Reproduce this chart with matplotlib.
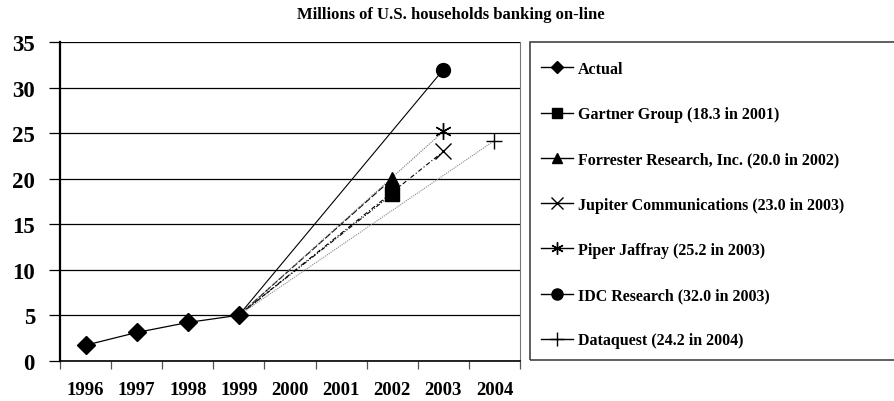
import matplotlib.pyplot as plt
from matplotlib.lines import Line2D
from matplotlib.patches import Rectangle

years = ['1996', '1997', '1998', '1999', '2000', '2001', '2002', '2003', '2004']
actualYears = ['1996', '1997', '1998', '1999']
actual = [1.7, 3.1, 4.2, 5.0]

# forecasts all start from the last actual value (1999)
names = ['Gartner Group (18.3 in 2001)', 'Forrester Research, Inc. (20.0 in 2002)',
         'Jupiter Communications (23.0 in 2003)', 'Piper Jaffray (25.2 in 2003)',
         'IDC Research (32.0 in 2003)', 'Dataquest (24.2 in 2004)']
endYears = ['2002', '2002', '2003', '2003', '2003', '2004']
endValues = [18.3, 20.0, 23.0, 25.2, 32.0, 24.2]

markers = ['s', '^', 'x', (6, 2, 0), 'o', '+']
sizes = [10, 10, 11, 12, 10, 12]
legendSizes = [7, 7, 8, 9, 8, 10]
colors = ['black', 'black', 'black', '#777777', 'black', '#888888']
styles = [(0, (4, 1.5, 1, 1.5, 1, 1.5)), (0, (6, 2)), (0, (4, 2, 1, 2)), (0, (1, 1)), '-', (0, (1, 1))]

plt.rcParams['font.family'] = ['Liberation Serif', 'DejaVu Serif']
plt.rcParams['font.weight'] = 'bold'

fig = plt.figure(figsize=(8.95, 4.02), dpi=100)
ax = fig.add_axes([60 / 895, (402 - 361.7) / 402, 460 / 895, (361.7 - 43.3) / 402])

xpos = {y: i for i, y in enumerate(years)}
ax.plot([xpos[y] for y in actualYears], actual, color='black', lw=0.9,
        marker='D', ms=9, mfc='black', mec='black', zorder=5)

startX = xpos[actualYears[-1]]
startY = actual[-1]
for i in range(len(names)):
    ax.plot([startX, xpos[endYears[i]]], [startY, endValues[i]], color=colors[i],
            lw=0.8, ls=styles[i], zorder=3)
    ax.plot([xpos[endYears[i]]], [endValues[i]], marker=markers[i], ms=sizes[i],
            color='black', mew=1.0, ls='none', zorder=4)

ax.set_xlim(-0.5, len(years) - 0.5)
ax.set_ylim(0, 35)
ax.set_yticks(range(0, 36, 5))
ax.set_yticklabels([str(v) for v in range(0, 36, 5)], fontsize=16.5, fontweight='bold')
ax.set_xticks([i - 0.5 for i in range(len(years) + 1)])
ax.set_xticklabels([])
for i, y in enumerate(years):
    ax.text(i, -0.09, y, transform=ax.get_xaxis_transform(), ha='center', va='center',
            fontsize=13.5, fontweight='bold')
ax.tick_params(axis='y', length=8, width=0.9, direction='out', pad=10)
ax.tick_params(axis='x', length=6, width=0.9, direction='out', color='#555555')

ax.yaxis.grid(True, color='black', lw=0.9)
ax.set_axisbelow(True)
ax.spines['left'].set_linewidth(1.6)
ax.spines['bottom'].set_linewidth(1.2)
ax.spines['top'].set_visible(False)
ax.spines['right'].set_color('#777777')

fig.text(451 / 895, 1 - 15 / 402, 'Millions of U.S. households banking on-line',
         ha='center', va='center', fontsize=12, fontweight='bold')

# legend box (runs off the right edge)
fig.patches.append(Rectangle((530 / 895, (402 - 361) / 402), 400 / 895, 318 / 402,
                             transform=fig.transFigure, fill=False, ec='#444444', lw=1.2))

handles = [Line2D([], [], color='black', lw=1, marker='D', ms=6)]
for i in range(len(names)):
    handles.append(Line2D([], [], color='black', lw=1, marker=markers[i], ms=legendSizes[i], mew=1.0))
labels = ['Actual'] + names
leg = fig.legend(handles, labels, loc='upper left', bbox_to_anchor=(541 / 895, 1 - 62 / 402),
                 frameon=False, prop={'family': 'Liberation Serif', 'weight': 'bold', 'size': 11.5},
                 handlelength=2.0, handletextpad=0.3, labelspacing=1.83, borderaxespad=0,
                 borderpad=0)

fig.savefig('out.png', dpi=100)
